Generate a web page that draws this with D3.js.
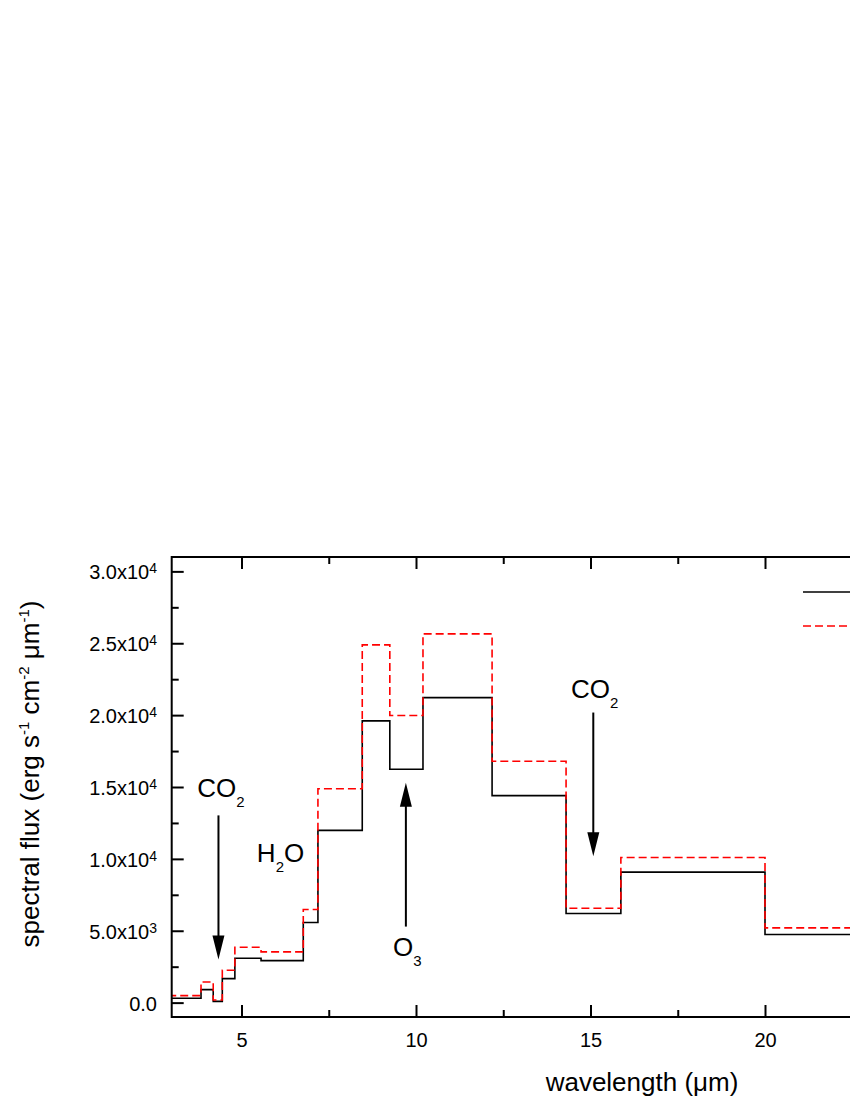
<!DOCTYPE html>
<html>
<head>
<meta charset="utf-8">
<script src="https://cdn.jsdelivr.net/npm/d3@7/dist/d3.min.js"></script>
<style>
  body { margin: 0; background: #fff; overflow: hidden; }
  svg { display: block; font-family: "Liberation Sans", Arial, sans-serif; }
</style>
</head>
<body>
<div id="chart"></div>
<script>
// band edges (wavelength, um) and flux per band
const bandEdges = [2.9, 3.84, 4.19, 4.45, 4.81, 5.56, 6.77, 7.19, 8.46, 9.25, 10.2, 12.18, 14.3, 15.87, 20.0, 28.6];
const fluxSolid = [300, 905, 90, 1670, 3085, 2925, 5570, 11980, 19600, 16230, 21220, 14400, 6200, 9075, 4736];
const fluxDashed = [490, 1440, 180, 2250, 3850, 3530, 6480, 14880, 24890, 19970, 25650, 16790, 6570, 10100, 5200];

const xTicks = [5, 10, 15, 20];
const xMinorTicks = [7.5, 12.5, 17.5, 22.5];
const yTicks = [0, 5000, 10000, 15000, 20000, 25000, 30000];
const yMinorTicks = [2500, 7500, 12500, 17500, 22500, 27500];

// arrows: wavelength, start flux, tip flux
const arrows = [
  {x: 4.34, from: 13025, to: 3000},
  {x: 9.71, from: 5290, to: 15300},
  {x: 15.08, from: 20180, to: 10190}
];
// molecule labels: parts [text, isSubscript]
const molecules = [
  {x: 3.73, y: 14280, parts: [["CO", false], ["2", true]]},
  {x: 5.44, y: 9750, parts: [["H", false], ["2", true], ["O", false]]},
  {x: 9.34, y: 3225, parts: [["O", false], ["3", true]]},
  {x: 14.44, y: 21175, parts: [["CO", false], ["2", true]]}
];

const width = 850, height = 1100;
const plotLeft = 171.7, plotTop = 557, plotBottom = 1017;

const svg = d3.select("#chart").append("svg")
    .attr("width", width)
    .attr("height", height);

//scales
const x = d3.scaleLinear().domain([3, 25]).range([plotLeft, plotLeft + 22 * 34.9]);
const y = d3.scaleLinear().domain([-1000, 31000]).range([plotBottom, plotTop]);
const plotRight = x.range()[1];

svg.append("clipPath").attr("id", "plot")
  .append("rect")
    .attr("x", plotLeft).attr("y", plotTop)
    .attr("width", plotRight - plotLeft).attr("height", plotBottom - plotTop);

// step lines
const line = d3.line()
    .x(d => x(d[0]))
    .y(d => y(d[1]))
    .curve(d3.curveStepAfter);

function steps(values) {
  const pts = values.map((v, i) => [bandEdges[i], v]);
  pts.push([bandEdges[values.length], values[values.length - 1]]);
  return pts;
}

svg.append("path")
    .attr("clip-path", "url(#plot)")
    .attr("d", line(steps(fluxSolid)))
    .attr("fill", "none")
    .attr("stroke", "#000")
    .attr("stroke-width", 1.6);

svg.append("path")
    .attr("clip-path", "url(#plot)")
    .attr("d", line(steps(fluxDashed)))
    .attr("fill", "none")
    .attr("stroke", "#ff0000")
    .attr("stroke-width", 1.6)
    .attr("stroke-dasharray", "8,4");

// axes
function styleAxis(g) {
  g.select(".domain").remove();
  g.selectAll(".tick line").attr("stroke", "#000").attr("stroke-width", 2);
  g.selectAll(".tick text")
    .attr("fill", "#000")
    .style("font-size", "20px")
    .style("font-family", "'Liberation Sans', Arial, sans-serif");
}

svg.append("g")
    .attr("transform", `translate(0,${plotBottom})`)
    .call(d3.axisBottom(x).tickValues(xTicks).tickSize(-12).tickPadding(16).tickFormat(d3.format("d")))
    .call(styleAxis);
svg.append("g")
    .attr("transform", `translate(0,${plotBottom})`)
    .call(d3.axisBottom(x).tickValues(xMinorTicks).tickSize(-7).tickFormat(""))
    .call(styleAxis);
svg.append("g")
    .attr("transform", `translate(0,${plotTop})`)
    .call(d3.axisTop(x).tickValues(xTicks).tickSize(-12).tickFormat(""))
    .call(styleAxis);
svg.append("g")
    .attr("transform", `translate(0,${plotTop})`)
    .call(d3.axisTop(x).tickValues(xMinorTicks).tickSize(-7).tickFormat(""))
    .call(styleAxis);

svg.append("g")
    .attr("transform", `translate(${plotLeft},0)`)
    .call(d3.axisLeft(y).tickValues(yTicks).tickSize(-12).tickFormat(""))
    .call(styleAxis);
svg.append("g")
    .attr("transform", `translate(${plotLeft},0)`)
    .call(d3.axisLeft(y).tickValues(yMinorTicks).tickSize(-7).tickFormat(""))
    .call(styleAxis);

// y tick labels with exponent
yTicks.forEach(v => {
  const t = svg.append("text")
      .attr("x", 157)
      .attr("y", y(v) + 8)
      .attr("text-anchor", "end")
      .style("font-size", "20px");
  if (v === 0) {
    t.text("0.0");
  } else {
    const e = Math.floor(Math.log10(v));
    t.append("tspan").text((v / Math.pow(10, e)).toFixed(1) + "x10");
    t.append("tspan").attr("dy", -6).style("font-size", "14px").text(e);
  }
});

// frame
svg.append("rect")
    .attr("x", plotLeft).attr("y", plotTop)
    .attr("width", plotRight - plotLeft).attr("height", plotBottom - plotTop)
    .attr("fill", "none")
    .attr("stroke", "#000")
    .attr("stroke-width", 2);

// arrows
arrows.forEach(a => {
  const x0 = x(a.x), y0 = y(a.from), y1 = y(a.to);
  const dir = y1 > y0 ? 1 : -1;
  svg.append("line")
      .attr("x1", x0).attr("x2", x0)
      .attr("y1", y0).attr("y2", y1 - dir * 20)
      .attr("stroke", "#000")
      .attr("stroke-width", 2);
  svg.append("path")
      .attr("d", `M${x0},${y1} L${x0 - 6},${y1 - dir * 24} L${x0 + 6},${y1 - dir * 24} Z`)
      .attr("fill", "#000");
});

// molecule labels
molecules.forEach(m => {
  const t = svg.append("text")
      .attr("x", x(m.x))
      .attr("y", y(m.y))
      .style("font-size", "26px");
  let shifted = false;
  m.parts.forEach(([s, sub]) => {
    const ts = t.append("tspan").text(s);
    if (sub && !shifted) { ts.attr("dy", 10).style("font-size", "15px"); shifted = true; }
    else if (!sub && shifted) { ts.attr("dy", -10); shifted = false; }
  });
});

// legend samples (text lies outside the visible page)
svg.append("line")
    .attr("x1", 803).attr("x2", 880)
    .attr("y1", 592).attr("y2", 592)
    .attr("stroke", "#000").attr("stroke-width", 1.6);
svg.append("line")
    .attr("x1", 803).attr("x2", 880)
    .attr("y1", 626).attr("y2", 626)
    .attr("stroke", "#ff0000").attr("stroke-width", 1.6)
    .attr("stroke-dasharray", "8,4");

// axis titles
svg.append("text")
    .attr("x", 642)
    .attr("y", 1091)
    .attr("text-anchor", "middle")
    .style("font-size", "26px")
    .text("wavelength (\u03bcm)");

const yTitle = svg.append("text")
    .attr("transform", "translate(39,774) rotate(-90)")
    .attr("text-anchor", "middle")
    .style("font-size", "26px");
yTitle.append("tspan").text("spectral flux (erg s");
yTitle.append("tspan").attr("dy", -10).style("font-size", "15px").text("-1");
yTitle.append("tspan").attr("dy", 10).text(" cm");
yTitle.append("tspan").attr("dy", -10).style("font-size", "15px").text("-2");
yTitle.append("tspan").attr("dy", 10).text(" \u03bcm");
yTitle.append("tspan").attr("dy", -10).style("font-size", "15px").text("-1");
yTitle.append("tspan").attr("dy", 10).text(")");
</script>
</body>
</html>
